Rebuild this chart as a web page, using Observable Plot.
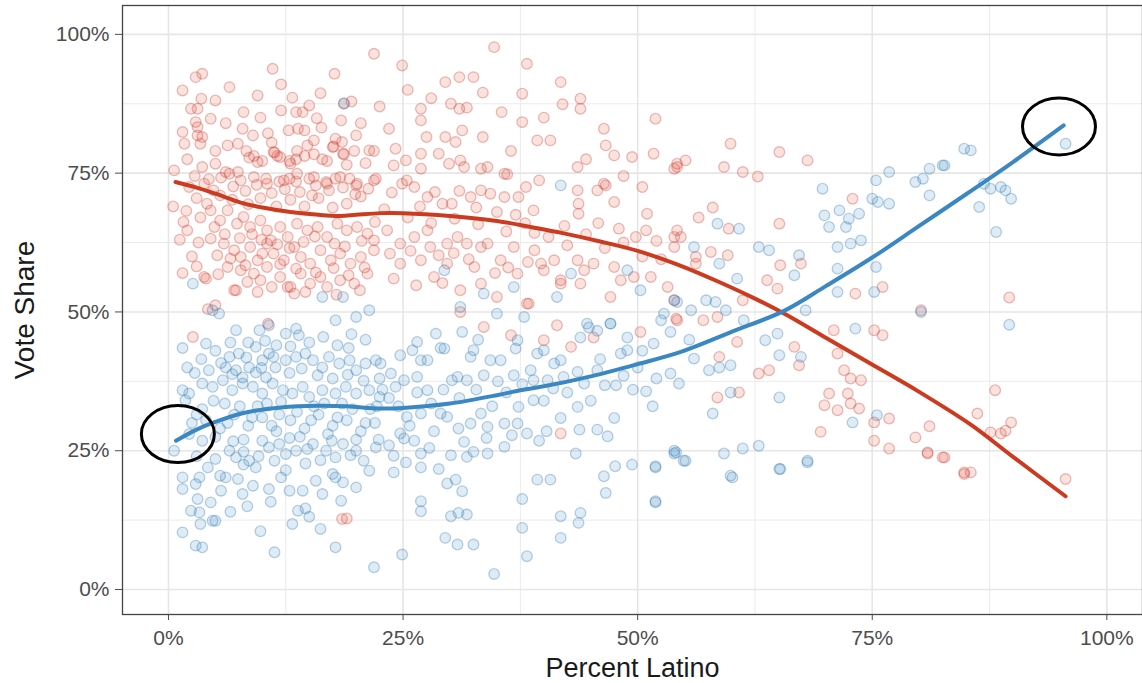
<!DOCTYPE html>
<html>
<head>
<meta charset="utf-8">
<script src="https://cdn.jsdelivr.net/npm/d3@7"></script>
<script src="https://cdn.jsdelivr.net/npm/@observablehq/plot@0.6"></script>
<style>
  html, body { margin: 0; padding: 0; background: #ffffff; }
  #chart svg { display: block; }
</style>
</head>
<body>
<div id="chart"></div>
<script>
// County results: [percent Latino, vote share] for each party
const repPoints = [
  [3.6,92.9],[2.9,92.3],[1.5,89.9],[3.5,88.4],[5.0,88.1],[2.4,86.6],[3.1,86.6],[11.1,93.8],[4.5,84.8],[2.9,84.2],
  [3.1,83.3],[1.5,82.4],[1.7,80.3],[3.1,81.8],[3.4,80.3],[3.6,81.5],[7.9,83.0],[9.0,81.8],[10.6,82.2],[6.3,80.0],
  [7.4,80.3],[0.6,75.5],[3.6,76.1],[5.0,76.7],[6.1,75.2],[6.5,74.9],[7.4,75.2],[8.6,77.8],[9.1,78.1],[10.0,77.2],
  [11.3,78.7],[11.6,78.1],[12.9,77.2],[13.6,77.5],[14.5,78.1],[16.4,77.5],[17.5,79.7],[18.6,78.5],
  [21.9,96.5],[17.7,92.9],[13.2,88.6],[16.2,89.4],[15.0,87.2],[14.3,86.0],[13.6,86.0],[18.7,87.5],[18.4,84.5],
  [12.8,82.7],[13.8,83.0],[14.5,82.7],[16.3,83.2],[15.5,80.9],[17.8,81.2],[18.5,80.6],[20.0,81.8],[21.4,79.1],
  [10.4,74.0],[11.8,73.5],[12.9,74.0],[13.6,73.5],[15.0,74.0],[15.7,72.8],[16.8,73.4],[17.8,74.0],[19.3,74.0],[20.0,72.8],[22.1,74.0],
  [9.5,77.0],[11.2,78.8],[11.9,77.9],[13.0,76.7],[13.7,79.0],[15.5,78.4],[16.9,77.2],[17.6,79.8],[18.7,78.4],[19.8,79.0],[21.9,79.0],
  [3.8,73.1],[4.8,71.9],[7.7,73.7],[9.1,74.3],[10.5,73.1],[12.3,73.7],[13.7,74.9],[15.5,74.3],[16.9,73.1],[18.3,74.3],[20.1,73.1],[21.9,73.7],
  [1.6,66.2],[2.0,64.7],
  [4.1,69.5],[4.5,68.3],[5.5,66.5],[6.3,68.3],[7.3,65.9],[8.0,67.1],[8.7,65.3],[9.8,66.5],[10.5,64.7],[10.9,62.9],
  [11.9,65.3],[12.7,63.5],[13.7,65.9],[14.8,64.7],[15.9,65.3],[16.9,63.5],[18.0,65.9],[19.0,64.7],[20.1,65.3],[21.2,64.1],[21.9,62.9],
  [4.5,63.2],[5.9,62.3],[7.0,61.1],[7.7,59.9],[8.7,61.7],[9.5,59.3],[10.5,62.3],[11.2,60.5],[12.3,59.3],[13.4,61.7],
  [14.1,59.9],[15.1,58.7],[16.2,61.1],[17.3,59.3],[18.3,60.5],[19.4,58.7],[20.5,59.9],[21.9,61.1],
  [6.3,58.1],[7.7,57.5],[9.1,56.9],[9.8,55.7],[10.5,58.1],[11.9,56.3],[13.0,54.5],[14.1,56.9],[15.1,55.1],[16.2,56.3],
  [16.9,54.5],[18.3,55.7],[19.8,55.1],[21.2,56.9],
  [3.8,56.3],[7.0,53.9],[9.5,53.6],[12.7,54.5],[13.4,53.3],
  [0.5,69.0],[1.2,63.0],[2.5,60.0],[3.0,58.2],[1.5,57.0],[2.6,45.5],[4.0,56.0],[7.2,53.9],[10.6,47.9],[3.0,70.5],
  [2.2,72.5],[5.5,71.0],[6.8,70.2],[8.5,69.4],[9.8,70.5],[11.5,69.0],[13.0,70.2],[14.5,69.0],[16.0,70.5],[17.5,68.8],
  [19.0,69.5],[20.5,70.8],[5.0,79.0],[8.0,86.0],[6.5,90.5],[9.5,89.0],[12.0,91.0],[20.5,84.0],[19.5,87.9],[4.2,50.5],
  [5.0,51.2],[18.5,12.7],[19.0,12.8],
  [2.0,77.5],[2.8,74.5],[4.3,73.9],[5.6,74.2],[6.9,72.6],[8.2,71.8],[9.4,72.9],[11.0,71.4],[12.4,72.1],[14.0,71.6],
  [15.3,71.0],[17.1,71.9],[18.6,72.4],[19.9,71.2],[21.3,72.2],
  [1.9,68.2],[3.4,67.0],[4.9,65.3],[6.0,64.0],[7.6,63.3],[8.9,64.0],[9.9,63.0],[11.6,62.2],[12.9,61.5],[14.4,62.6],
  [15.6,63.6],[17.7,62.3],[18.8,61.8],[20.6,62.8],[22.0,66.2],
  [3.2,62.5],[5.2,60.2],[6.6,59.6],[8.2,58.4],[10.0,60.5],[11.9,58.6],[13.6,57.8],[15.7,57.1],[17.6,57.9],[19.2,56.6],[20.9,58.0],
  [5.3,56.8],[8.4,55.4],[11.0,54.5],[14.6,53.6],[17.9,53.1],[20.4,53.9],[6.1,84.0],[9.8,85.0],[12.0,86.3],[15.8,84.9],
  [11.0,80.5],[14.8,80.0],[8.3,79.0],[19.0,76.5],[21.0,76.8],
  [34.7,97.7],[24.9,94.4],[38.2,94.7],[29.5,91.4],[31.0,92.3],[32.5,92.3],[41.8,91.4],[37.7,89.3],[43.9,88.4],[43.9,86.6],
  [42.0,87.4],[26.9,86.6],[26.9,84.5],[30.1,87.5],[31.0,86.6],[31.8,86.8],[37.7,84.2],[31.3,82.7],[29.5,81.5],[30.6,80.6],
  [39.3,80.9],[40.7,80.9],[46.4,83.0],[46.6,80.0],[51.9,84.8],[24.2,79.4],[26.9,78.5],[28.8,78.5],[29.9,76.7],[31.1,77.3],
  [47.5,78.2],[49.4,77.9],[51.7,78.5],[24.0,76.4],[25.3,77.3],[26.9,75.8],[31.5,76.1],[33.3,75.8],[34.0,76.1],[35.8,74.9],
  [36.1,74.8],[39.5,73.7],[43.6,76.1],[43.6,71.9],[45.7,71.9],[46.6,72.8],[47.5,69.8],[53.9,75.8],[54.2,76.7],
  [24.9,73.1],[25.4,73.7],[26.2,72.5],[27.6,70.7],[29.2,69.5],[30.2,69.5],[32.2,70.7],[33.3,71.9],[34.3,71.3],[35.8,70.7],
  [37.3,70.7],[38.1,72.5],[38.9,68.3],
  [43.7,67.7],[43.7,69.5],[46.4,73.1],[51.0,67.7],[50.9,64.7],[53.9,63.5],[54.2,64.7],
  [23.3,64.7],[24.7,62.3],[26.2,63.5],[27.6,64.7],[27.9,61.7],[29.7,62.3],[30.8,63.5],[31.8,62.3],[33.3,61.7],[34.0,62.3],
  [35.4,59.3],[36.8,61.7],[39.0,61.1],[40.0,57.5],[41.1,59.3],[41.8,55.1],[43.6,59.3],[44.3,57.5],[45.3,58.7],[47.5,58.1],
  [48.2,55.7],[49.6,56.3],[51.4,56.3],[53.2,54.5],[53.9,52.1],
  [24.7,58.7],[26.9,59.3],[28.3,56.3],[29.7,58.7],[31.1,53.9],[32.6,58.1],[33.3,55.1],[35.0,52.7],[37.2,56.9],[38.2,51.5],
  [39.7,58.7],[41.8,55.7],[43.9,55.1],[47.1,52.7],
  [31.1,50.0],[33.6,47.3],[36.5,45.8],[38.4,51.5],[40.0,44.9],[41.4,47.6],[42.9,43.7],[45.3,45.4],[50.3,46.4],[54.1,48.8],[41.8,28.1],
  [23.0,68.5],[25.5,67.0],[28.0,66.0],[30.5,66.8],[33.0,65.8],[36.0,64.5],[38.0,66.0],[40.5,63.5],[42.5,62.0],[44.5,64.0],
  [46.5,61.5],[48.5,62.5],[50.5,60.0],[52.5,59.5],[36.5,79.0],[33.5,81.5],[28.0,88.5],[22.5,87.0],[23.5,83.0],[40.0,85.0],
  [44.5,77.5],[48.5,74.5],[50.5,72.5],[56.5,67.0],
  [23.8,71.5],[26.8,69.0],[28.4,71.6],[31.0,71.8],[32.8,68.8],[35.0,68.0],[37.0,67.5],[23.6,60.5],[25.8,61.0],[28.8,60.2],
  [30.4,60.6],[32.0,59.5],[34.8,57.0],[36.2,58.0],[38.3,59.0],[24.0,56.0],[26.4,54.8],[29.2,55.2],[45.8,66.0],[48.0,65.0],
  [49.8,63.5],[52.0,62.8],[42.2,65.5],[39.0,64.2],[27.5,81.5],[25.5,90.0],[35.5,86.0],[33.5,89.5],
  [59.9,80.3],[65.1,78.8],[68.1,77.3],[54.2,76.1],[55.1,77.3],[59.2,76.1],[61.2,75.2],[62.8,74.4],[58.0,68.8],[72.9,70.4],
  [65.1,65.9],[59.7,65.0],[54.6,63.5],[53.9,61.7],[57.8,60.8],[59.6,60.2],[56.2,59.9],[56.2,58.7],[65.2,58.4],[67.4,58.7],
  [63.8,55.7],[64.9,54.2],[73.2,53.3],[76.1,54.5],[54.2,48.5],[57.0,48.5],[58.5,49.1],[61.2,52.1],[80.2,50.3],[70.9,46.7],
  [75.2,46.7],[76.1,45.8],[60.6,44.6],[66.7,43.7],[58.7,41.9],[67.2,40.4],[71.3,42.5],[72.0,39.5],[72.7,38.0],[73.8,37.7],
  [62.9,38.9],[64.0,39.5],[58.5,34.6],[60.8,35.5],[70.4,35.3],[72.4,35.3],[69.9,33.2],[71.3,32.3],[72.7,33.5],[73.6,32.6],
  [75.2,30.1],[76.8,30.8],[69.5,28.4],[75.2,26.8],[76.8,25.4],[79.6,27.4],[80.9,24.7],[81.1,29.4],[82.5,23.8],[84.8,21.1],
  [89.6,52.6],[88.1,35.9],[86.2,31.7],[87.6,28.3],[88.7,28.1],[89.8,30.1],[89.2,28.6],[82.7,23.8],[84.8,20.8],[85.5,21.1],
  [95.6,19.9],[80.9,24.5]
];

const demPoints = [
  [2.6,55.1],[4.7,50.3],[5.4,49.7],[4.0,44.3],[7.2,46.7],[9.7,46.7],[10.7,47.6],[12.5,46.1],[13.6,47.0],[13.9,45.8],
  [16.4,52.7],[18.6,52.7],[17.8,48.5],[20.0,49.1],[21.4,50.3],[6.5,41.9],[7.5,42.5],[9.3,43.7],[10.0,41.3],[10.7,42.5],
  [6.1,40.0],[6.8,38.8],[7.9,38.2],[8.6,40.0],[9.3,39.1],[10.4,38.2],[11.4,40.0],[12.5,41.3],[13.6,41.9],[14.6,42.5],
  [15.4,41.3],[16.4,40.0],[17.1,41.9],[18.2,40.7],[19.3,41.3],[20.0,39.5],[21.0,40.7],[22.1,41.3],
  [3.6,37.1],[4.7,36.5],[5.8,37.7],[6.8,35.9],[7.9,37.1],[9.0,36.5],[10.0,35.3],[11.1,37.1],[12.2,35.9],[13.2,35.3],
  [14.3,36.5],[15.0,34.7],[16.4,35.9],[17.8,35.3],[18.9,36.5],[20.0,35.3],[21.4,35.9],[22.5,34.7],
  [1.5,35.9],[2.2,35.3],[1.8,34.1],
  [0.6,25.0],[3.6,26.8],[5.0,23.5],[6.5,25.0],[7.2,23.8],[8.6,23.2],[9.3,22.0],[10.0,26.8],[10.7,25.6],[11.8,26.2],
  [12.5,24.4],[13.6,25.0],[14.6,22.7],[15.4,26.2],[16.8,25.0],[17.8,23.8],[18.6,26.2],[20.0,25.0],[21.4,21.4],[22.1,25.6],
  [1.5,20.2],[3.3,20.2],[2.9,19.0],[1.5,18.1],[3.1,16.3],[4.5,15.7],[2.4,14.2],[3.3,13.9],[5.0,12.4],[3.4,11.8],
  [1.5,10.3],[2.9,7.9],[3.6,7.6],
  [6.1,20.2],[7.4,19.9],[9.0,18.7],[7.9,17.2],[10.7,18.1],[12.9,17.8],[14.3,17.8],[13.8,14.2],[14.6,14.6],[15.0,13.1],
  [15.7,19.6],[16.4,17.2],[17.5,20.8],[17.8,20.2],[18.6,19.3],[20.0,18.4],[13.2,11.8],[16.2,10.9],[18.4,16.0],
  [11.3,6.7],[17.8,7.6],[21.9,4.0],[4.7,12.4],
  [4.0,30.5],[5.5,29.0],[7.0,31.5],[8.5,29.5],[10.0,31.0],[11.5,28.5],[13.0,30.5],[14.5,29.0],[16.0,31.5],[17.5,29.5],
  [19.0,30.5],[20.5,28.5],[22.0,30.0],[6.0,33.5],[9.5,33.0],[12.0,33.8],[15.5,33.0],[18.5,33.5],[21.5,32.5],[2.5,30.0],
  [5.0,27.5],[8.0,27.0],[11.0,29.5],[14.0,27.5],[17.0,28.0],[20.0,27.0],[1.5,43.5],[2.0,40.0],[3.5,41.5],[5.0,43.0],
  [8.5,44.5],[11.5,44.0],[15.0,44.5],[18.0,44.0],[21.0,45.0],[19.5,46.0],[22.5,38.0],[3.0,31.5],[12.5,21.5],[8.0,22.5],[5.5,20.5],
  [2.2,28.0],[3.6,32.5],[4.8,34.0],[6.3,30.0],[7.6,33.0],[8.9,31.0],[10.5,33.5],[11.8,31.5],[13.7,32.0],[15.2,30.5],
  [16.6,33.5],[18.0,31.0],[19.6,32.5],[21.0,30.0],[22.2,33.0],
  [3.0,24.0],[4.2,22.0],[6.9,26.7],[8.0,24.8],[9.6,24.0],[11.3,23.2],[12.9,27.3],[14.8,25.3],[16.2,23.3],[17.4,26.8],
  [19.4,24.2],[20.8,23.2],[22.4,27.0],
  [2.8,39.0],[4.3,39.5],[5.6,40.8],[7.2,39.5],[8.3,41.8],[9.9,39.9],[11.2,41.9],[12.9,39.0],[14.2,39.8],[15.9,38.6],
  [17.5,38.0],[19.1,38.7],[20.8,37.6],[6.6,44.5],[10.3,44.8],[13.0,43.8],[16.5,45.5],[19.2,43.5],
  [5.6,17.8],[8.4,15.0],[10.9,15.8],[12.0,20.2],[6.6,14.0],[9.8,10.5],
  [31.3,46.4],[28.5,46.1],[26.5,44.6],[24.7,42.2],[26.0,43.1],[27.6,41.3],[26.9,41.3],[29.4,43.4],[32.5,43.1],[32.2,41.9],
  [34.3,41.3],[35.4,41.3],[37.2,44.9],[37.0,43.4],[39.3,42.5],[40.0,43.1],[41.1,40.7],[41.8,41.3],[43.9,45.4],[44.8,47.2],
  [45.7,46.6],[47.1,47.9],[48.2,42.5],[48.9,43.1],[48.9,45.4],[51.7,44.3],[52.5,48.5],[53.5,46.4],
  [22.6,40.7],[23.7,38.9],[25.1,37.7],[26.5,38.3],[27.6,35.9],[30.2,37.7],[30.8,38.3],[31.8,37.7],[33.6,38.6],[36.8,38.6],
  [38.6,39.5],[38.9,37.7],[40.4,37.7],[42.1,38.3],[44.3,37.1],[45.7,39.5],[47.7,36.8],
  [25.4,31.1],[26.9,31.7],[29.0,31.7],[29.7,31.1],[32.2,29.9],[33.3,31.7],[34.0,29.3],[35.8,29.9],[37.2,29.9],[38.2,28.1],
  [37.3,32.9],[38.9,34.1],[41.8,30.9],[43.6,32.9],[43.8,28.8],[45.7,28.8],[46.8,27.6],[47.5,30.9],[50.9,35.7],[51.6,33.0],
  [24.7,28.1],[25.1,27.2],[26.2,26.8],[31.5,26.6],[32.5,24.8],[31.8,23.9],[30.1,24.2],[26.9,24.5],[35.8,25.7],[34.0,24.5],
  [39.5,26.8],[43.4,24.5],
  [24.0,24.1],[25.3,22.9],[24.0,21.1],[26.9,22.0],[28.8,21.7],[29.7,19.1],[30.6,19.8],[31.3,17.7],[26.9,15.9],[26.9,14.1],
  [30.1,13.2],[30.9,13.8],[31.8,13.5],[39.3,19.8],[40.7,19.8],[37.7,16.3],[37.7,11.1],[41.8,13.2],[43.9,13.8],[43.7,12.0],
  [41.8,9.3],[29.5,9.3],[30.8,8.1],[32.5,8.1],[24.9,6.3],[38.2,6.0],[34.7,2.8],[46.4,20.4],[47.6,22.2],[49.4,22.5],
  [51.9,22.2],[46.6,17.4],[51.9,15.9],[53.9,25.0],
  [22.8,36.0],[23.5,34.5],[24.5,33.0],[28.0,33.5],[31.0,34.5],[34.5,33.0],[36.0,35.5],[40.0,34.0],[42.5,35.5],[45.0,34.0],
  [48.5,38.5],[50.0,40.0],[52.0,38.0],[49.5,36.0],
  [24.2,36.5],[26.5,35.5],[29.3,36.0],[32.8,36.0],[35.1,37.5],[37.7,37.0],[41.0,36.2],[43.6,39.2],[46.5,36.8],[25.7,29.5],
  [28.3,28.5],[30.9,29.0],[33.9,27.3],[36.6,27.8],[40.3,28.5],[23.5,26.0],[27.8,25.5],[29.0,43.5],[33.0,45.0],[46.0,41.5],
  [50.5,43.0],[55.5,45.0],
  [29.4,57.5],[31.1,50.9],[33.6,53.3],[35.0,49.7],[36.8,54.5],[37.9,49.1],[41.4,52.7],[42.9,56.9],[44.6,47.9],[47.1,47.9],
  [48.9,57.5],[50.3,53.9],[52.8,49.7],[53.9,52.1],[41.8,72.8],[18.7,87.6],
  [84.8,79.4],[76.8,75.2],[75.4,73.7],[79.6,73.4],[80.4,74.0],[81.1,75.8],[82.5,76.4],[81.1,71.0],[69.7,72.2],[75.0,70.4],
  [75.6,69.8],[76.8,69.5],[69.9,67.4],[70.4,65.3],[71.5,68.3],[72.5,66.8],[72.2,65.3],[73.6,67.7],[71.3,61.7],[72.7,62.3],
  [73.8,62.9],[58.5,65.9],[60.8,65.0],[56.0,61.7],[62.9,61.7],[64.0,61.1],[67.2,60.2],[66.7,56.6],[71.3,57.8],[58.7,58.7],
  [60.6,56.0],[71.3,53.6],[75.2,53.6],[73.2,47.0],[75.4,58.1],[54.2,51.8],[55.7,50.3],[57.3,52.1],[58.3,51.8],[59.4,50.3],
  [61.3,48.5],[67.9,50.3],[64.9,46.1],[63.6,44.9],[65.1,42.2],[67.4,41.9],[59.9,40.4],[58.7,40.0],[57.6,39.5],[56.0,41.6],
  [54.4,37.1],[53.5,38.9],[59.9,35.5],[58.0,31.7],[65.1,34.6],[72.9,30.1],[75.5,31.4],[54.1,24.7],[55.1,23.2],[59.2,24.5],
  [61.2,25.4],[62.9,25.9],[68.1,23.2],[65.1,21.7],[59.9,20.5],
  [85.5,79.1],[82.7,76.4],[86.9,73.1],[87.6,72.2],[88.7,72.5],[89.2,71.9],[89.8,70.4],[86.4,68.9],[88.2,64.4],[95.6,80.3],
  [89.6,47.7],[51.9,22.0],[51.9,15.7],[53.9,24.5],[54.9,23.2],[60.1,20.2],[65.2,21.7],[68.1,22.9],[80.2,50.0]
];

// Smoothed trends
const repTrendX = [0.75, 3, 5, 7.7, 10, 13, 16, 18.3, 20, 22.6, 25, 30, 35, 38.6, 42, 46, 50, 54.6, 58.8, 62.5, 65.6, 70, 74.8, 80, 85.5, 90, 95.6];
const repTrendY = [73.4, 72.4, 71.3, 69.7, 68.8, 68.0, 67.5, 67.3, 67.5, 67.8, 67.8, 67.3, 66.4, 65.3, 64.2, 62.7, 61.0, 58.3, 55.3, 52.4, 49.7, 45.4, 40.7, 35.6, 29.7, 23.9, 16.8];
const demTrendX = [0.8, 3, 4.7, 8, 12, 16, 19, 22.6, 25, 30, 35, 37.5, 40, 45, 50, 54.6, 60, 65.6, 70, 75, 80, 85, 90, 95.4];
const demTrendY = [26.8, 28.8, 30.0, 31.8, 32.8, 33.1, 33.0, 32.6, 32.7, 33.5, 35.0, 35.9, 36.6, 38.4, 40.6, 42.8, 46.4, 50.2, 54.6, 59.8, 65.5, 71.2, 77.0, 83.6];

// Highlighted trend endpoints
const highlights = [[1.0, 28.0], [94.9, 83.4]];

const majorTicks = [0, 25, 50, 75, 100];
const minorTicks = [12.5, 37.5, 62.5, 87.5];

const RED = "#cc3a1f";
const BLUE = "#3a87c2";
const FONT = "'Liberation Sans', Arial, Helvetica, sans-serif";

const repTrend = repTrendX.map((x, i) => ({x, y: repTrendY[i]}));
const demTrend = demTrendX.map((x, i) => ({x, y: demTrendY[i]}));

// Ellipse outline used as a dot symbol
const ellipse = {
  draw(ctx) {
    const rx = 36.5, ry = 28.5, k = 0.5523;
    ctx.moveTo(rx, 0);
    ctx.bezierCurveTo(rx, k * ry, k * rx, ry, 0, ry);
    ctx.bezierCurveTo(-k * rx, ry, -rx, k * ry, -rx, 0);
    ctx.bezierCurveTo(-rx, -k * ry, -k * rx, -ry, 0, -ry);
    ctx.bezierCurveTo(k * rx, -ry, rx, -k * ry, rx, 0);
    ctx.closePath();
  }
};

const pct = d => `${d}%`;

const chart = Plot.plot({
  width: 1142,
  height: 683,
  marginLeft: 122,
  marginRight: 0,
  marginTop: 5,
  marginBottom: 69,
  style: {fontFamily: FONT, fontSize: "21px", color: "#4d4d4d", background: "#ffffff"},
  x: {domain: [-4.9, 103.8], ticks: majorTicks, tickFormat: pct, tickSize: 6, tickPadding: 10, label: null},
  y: {domain: [-4.5, 105.2], ticks: majorTicks, tickFormat: pct, tickSize: 7, tickPadding: 6, label: null},
  marks: [
    Plot.ruleX(minorTicks, {stroke: "#ebebeb", strokeWidth: 1}),
    Plot.ruleY(minorTicks, {stroke: "#ebebeb", strokeWidth: 1}),
    Plot.ruleX(majorTicks, {stroke: "#e6e6e6", strokeWidth: 1.6}),
    Plot.ruleY(majorTicks, {stroke: "#e6e6e6", strokeWidth: 1.6}),
    Plot.dot(repPoints, {x: d => d[0], y: d => d[1], r: 5.3, fill: "#e0483a", fillOpacity: 0.16, stroke: "#d0443a", strokeOpacity: 0.36, strokeWidth: 1.3}),
    Plot.dot(demPoints, {x: d => d[0], y: d => d[1], r: 5.3, fill: "#3a87c2", fillOpacity: 0.16, stroke: "#3a7fb8", strokeOpacity: 0.36, strokeWidth: 1.3}),
    Plot.line(repTrend, {x: "x", y: "y", stroke: RED, strokeWidth: 4, curve: "catmull-rom"}),
    Plot.line(demTrend, {x: "x", y: "y", stroke: BLUE, strokeWidth: 4, curve: "catmull-rom"}),
    Plot.dot(highlights, {x: d => d[0], y: d => d[1], symbol: ellipse, fill: "none", stroke: "#000000", strokeWidth: 3}),
    Plot.frame({stroke: "#444444", strokeWidth: 1.3}),
    Plot.text(["Percent Latino"], {frameAnchor: "bottom", textAnchor: "middle", lineAnchor: "middle", dy: 54, fontSize: 27, fill: "#1a1a1a", fontFamily: FONT}),
    Plot.text(["Vote Share"], {frameAnchor: "left", textAnchor: "middle", lineAnchor: "middle", dx: -97, rotate: -90, fontSize: 28, fill: "#1a1a1a", fontFamily: FONT})
  ]
});

document.getElementById("chart").appendChild(chart);
</script>
</body>
</html>
